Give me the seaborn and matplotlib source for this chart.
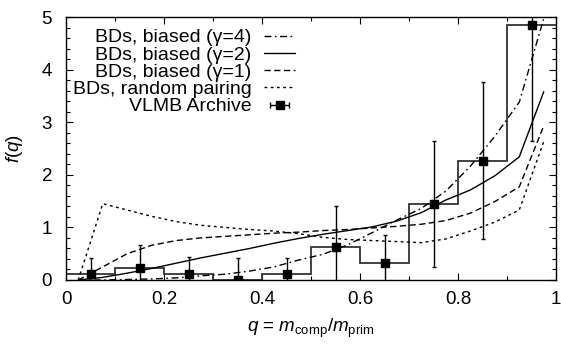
import numpy as np
import pandas as pd
import matplotlib
matplotlib.use("Agg")
import matplotlib.pyplot as plt
from matplotlib.lines import Line2D
from matplotlib.legend_handler import HandlerLine2D, HandlerTuple
import seaborn as sns

# ---- data ----
q_model = [0.025, 0.075, 0.125, 0.175, 0.225, 0.275, 0.325, 0.375, 0.425, 0.475,
           0.525, 0.575, 0.625, 0.675, 0.725, 0.775, 0.825, 0.875, 0.925, 0.975]
f_gamma4 = [0.0, 0.0, 0.01, 0.02, 0.04, 0.08, 0.11, 0.17, 0.25, 0.38,
            0.49, 0.67, 0.90, 1.14, 1.36, 1.69, 2.16, 2.73, 3.38, 4.97]
f_gamma2 = [0.0, 0.05, 0.13, 0.22, 0.32, 0.42, 0.51, 0.60, 0.70, 0.79,
            0.87, 0.94, 1.01, 1.12, 1.28, 1.52, 1.71, 1.98, 2.34, 3.58]
f_gamma1 = [0.0, 0.25, 0.50, 0.66, 0.75, 0.80, 0.83, 0.86, 0.89, 0.91,
            0.94, 0.96, 0.99, 1.02, 1.06, 1.13, 1.27, 1.49, 1.77, 2.93]
f_random = [0.0, 1.45, 1.33, 1.21, 1.11, 1.04, 1.00, 0.96, 0.93, 0.88,
            0.81, 0.77, 0.75, 0.73, 0.71, 0.78, 0.93, 1.10, 1.33, 2.63]

bin_edges = [0.0, 0.1, 0.2, 0.3, 0.4, 0.5, 0.6, 0.7, 0.8, 0.9, 1.0]
q_obs = [0.05, 0.15, 0.25, 0.35, 0.45, 0.55, 0.65, 0.75, 0.85, 0.95]
f_obs = [0.11, 0.22, 0.11, 0.0, 0.11, 0.62, 0.32, 1.44, 2.27, 4.85]
f_err = [0.31, 0.44, 0.32, 0.42, 0.31, 0.79, 0.54, 1.20, 1.50, 2.21]

labels = ["BDs, biased (\u03b3=4)", "BDs, biased (\u03b3=2)", "BDs, biased (\u03b3=1)",
          "BDs, random pairing", "VLMB Archive"]
x_ticks = [0, 0.2, 0.4, 0.6, 0.8, 1]
x_ticklabels = ["0", "0.2", "0.4", "0.6", "0.8", "1"]
y_ticks = [0, 1, 2, 3, 4, 5]

# ---- style ----
sns.set_theme(style="ticks")
plt.rcParams["font.family"] = ["Liberation Sans", "DejaVu Sans"]
plt.rcParams["mathtext.fontset"] = "custom"
plt.rcParams["mathtext.rm"] = "Liberation Sans"
plt.rcParams["mathtext.it"] = "Liberation Sans:italic"
plt.rcParams["mathtext.bf"] = "Liberation Sans:bold"
plt.rcParams["text.color"] = "black"
plt.rcParams["axes.labelcolor"] = "black"
plt.rcParams["xtick.color"] = "black"
plt.rcParams["ytick.color"] = "black"

fig = plt.figure(figsize=(5.61, 3.44), dpi=100)
ax = fig.add_axes([66 / 561, 64 / 344, 490 / 561, 263 / 344])

df = pd.DataFrame({"q": q_model, "g4": f_gamma4, "g2": f_gamma2,
                   "g1": f_gamma1, "rnd": f_random})

lw = 1.0
styles = {
    "g4": (0, (5.0, 2.5, 1.2, 2.5)),
    "g2": "-",
    "g1": (0, (4.5, 2.5)),
    "rnd": (0, (2.0, 2.5)),
}
for key in ["g4", "g2", "g1", "rnd"]:
    sns.lineplot(data=df, x="q", y=key, ax=ax, color="black", lw=lw,
                 linestyle=styles[key], legend=False)

# histogram outline
ax.stairs(f_obs, bin_edges, color="#333333", lw=1.3, baseline=None)

# error bars with square markers
ax.errorbar(q_obs, f_obs, yerr=f_err, fmt="s", color="black", ms=6.0,
            elinewidth=1.0, capsize=1.6, capthick=1.0, clip_on=True)

ax.set_xlim(0, 1)
ax.set_ylim(0, 5)
ax.set_xticks(x_ticks)
ax.set_xticklabels(x_ticklabels)
ax.set_yticks(y_ticks)
ax.set_xticks(np.arange(0, 1.0001, 0.1), minor=True)
ax.set_yticks(np.arange(0, 5.0001, 0.2), minor=True)
ax.tick_params(which="both", direction="in", top=True, right=True,
               color="black", width=0.8)
ax.tick_params(which="major", length=5, labelsize=13.5, labelcolor="black")
ax.tick_params(axis="x", which="major", pad=8)
ax.tick_params(axis="y", which="major", pad=10)
ax.tick_params(which="minor", length=3)
for s in ax.spines.values():
    s.set_color("black")
    s.set_linewidth(1.0)

ax.set_xlabel(r"$q$ = $m_{\mathrm{comp}}/m_{\mathrm{prim}}$", fontsize=13.5, labelpad=6, color="black")
ax.set_ylabel(r"$f(q)$", fontsize=13.5, labelpad=12, color="black")

# legend
h4 = Line2D([], [], color="black", lw=lw, linestyle=styles["g4"])
h2 = Line2D([], [], color="black", lw=lw, linestyle=styles["g2"])
h1 = Line2D([], [], color="black", lw=lw, linestyle=styles["g1"])
hr = Line2D([], [], color="black", lw=lw, linestyle=styles["rnd"])
hcaps = Line2D([], [], color="black", lw=1.0, marker="|", ms=5, mew=1.0)
hsq = Line2D([], [], color="black", lw=0, marker="s", ms=6.0)
leg = ax.legend([h4, h2, h1, hr, (hcaps, hsq)], labels,
                loc="upper right", bbox_to_anchor=(0.468, 0.955),
                frameon=False, markerfirst=False, fontsize=14,
                handlelength=1.6, handletextpad=0.65, labelspacing=-0.02,
                borderpad=0, borderaxespad=0, numpoints=1,
                labelcolor="black",
                handler_map={hcaps: HandlerLine2D(numpoints=2),
                             tuple: HandlerTuple(ndivide=1, pad=0)})
for col in leg._legend_handle_box.get_children():
    col.align = "right"

fig.savefig("out.png", dpi=100)
